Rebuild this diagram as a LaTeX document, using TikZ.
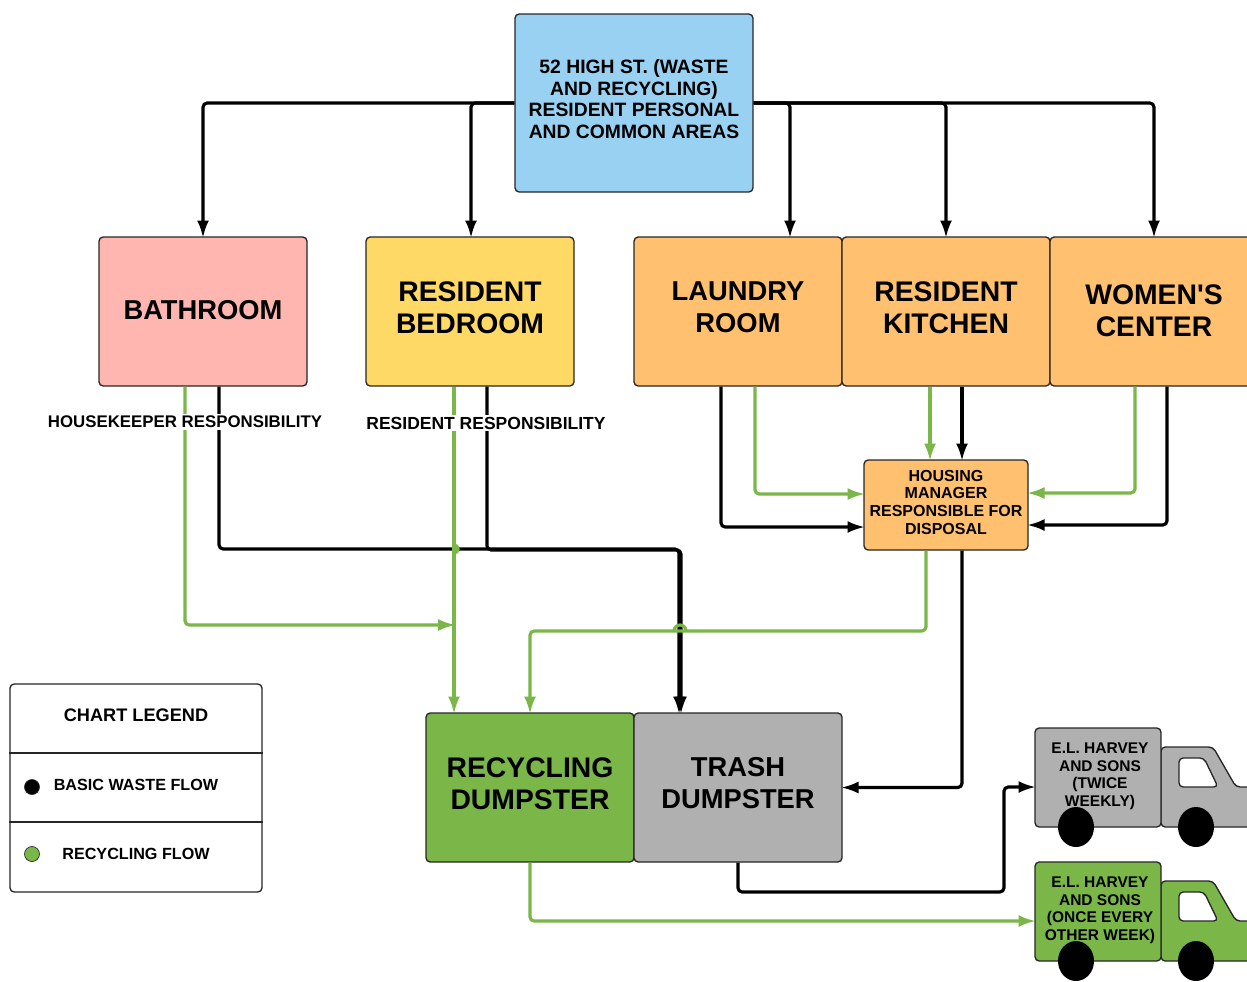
\documentclass[tikz,border=0pt]{standalone}
\usepackage{fontspec}
\setmainfont{Liberation Sans}
\usetikzlibrary{arrows.meta,calc,shapes.geometric}
\definecolor{topblue}{HTML}{99D1F3}
\definecolor{bathpink}{HTML}{FFB6B0}
\definecolor{bedyellow}{HTML}{FFD966}
\definecolor{roomorange}{HTML}{FFC06F}
\definecolor{recgreen}{HTML}{7AB648}
\definecolor{trashgray}{HTML}{B0B0B0}
\newcommand{\lift}[1]{\rule[-#1]{0pt}{0pt}}
\tikzset{
  room/.style={draw=black!85,line width=0.8pt,rounded corners=2.5pt,minimum width=124.8pt,minimum height=89.4pt,align=center,inner sep=0pt,font=\fontsize{17}{19.2}\selectfont\bfseries},
  narrowroom/.style={room,font=\fontsize{16.4}{19.2}\selectfont\bfseries},
  flow/.style={line width=1.9pt,rounded corners=2.5pt,shorten >=-1pt,-{Latex[length=10.5pt,width=7.2pt]}},
  waste/.style={flow,black},
  recycle/.style={flow,recgreen},
  tag/.style={font=\fontsize{9.7}{10.7}\selectfont\bfseries,align=center,inner sep=0pt},
  truckbox/.style={room,font=\fontsize{9.3}{10.7}\selectfont\bfseries,minimum width=75.6pt,minimum height=59.4pt},
  truckpart/.style={draw=black!85,line width=0.8pt,rounded corners=2.5pt},
  wheel/.style={ellipse,fill=black,minimum width=21.6pt,minimum height=24pt,inner sep=0pt},
  bump/.style={recgreen,line width=1.9pt},
}
\begin{document}
\begin{tikzpicture}[x=0.6pt,y=-0.6pt]
\clip (0,0) rectangle (1247,981);

%les boites
\node[room,fill=topblue,minimum width=142.8pt,minimum height=106.8pt,font=\fontsize{11.6}{12.9}\selectfont\bfseries] (top) at (634,103) {52 HIGH ST. (WASTE\\AND RECYCLING)\\RESIDENT PERSONAL\\AND COMMON AREAS\lift{5pt}};
\node[narrowroom,fill=bathpink] (bath) at (203,311.5) {BATHROOM\lift{2.4pt}};
\node[room,fill=bedyellow] (bed) at (470,311.5) {RESIDENT\\BEDROOM\lift{5pt}};
\node[narrowroom,fill=roomorange] (laundry) at (738,311.5) {LAUNDRY\\ROOM\lift{5pt}};
\node[room,fill=roomorange] (kitchen) at (946,311.5) {RESIDENT\\KITCHEN\lift{5pt}};
\node[room,fill=roomorange] (women) at (1154,311.5) {WOMEN\textquotesingle S\\CENTER\lift{1.5pt}};
\node[room,fill=roomorange,minimum width=98.4pt,minimum height=54pt,font=\fontsize{9.6}{10.6}\selectfont\bfseries] (manager) at (946,505) {HOUSING\\MANAGER\\RESPONSIBLE FOR\\DISPOSAL\lift{3.5pt}};
\node[room,fill=recgreen] (recycling) at (530,787.5) {RECYCLING\\DUMPSTER\lift{5pt}};
\node[narrowroom,fill=trashgray] (trash) at (738,787.5) {TRASH\\DUMPSTER\lift{5pt}};

%le camion gris
\draw[truckpart,fill=trashgray] (1161,747) -- (1213,747) -- (1236,787) -- (1270,787) -- (1270,827) -- (1161,827) -- cycle;
\draw[truckpart,fill=white] (1179,758) -- (1204,758) -- (1218,787) -- (1179,787) -- cycle;
\node[truckbox,fill=trashgray] (grey) at (1098,777.5) {\hspace*{2.4pt}E.L. HARVEY\\\hspace*{2.4pt}AND SONS\\\hspace*{2.4pt}(TWICE\\\hspace*{2.4pt}WEEKLY)\lift{3.5pt}};
\node[wheel] (greyA) at (1076,827) {};
\node[wheel] (greyB) at (1196,827) {};

%le camion vert
\draw[truckpart,fill=recgreen] (1161,881) -- (1213,881) -- (1236,921) -- (1270,921) -- (1270,961) -- (1161,961) -- cycle;
\draw[truckpart,fill=white] (1179,892) -- (1204,892) -- (1218,921) -- (1179,921) -- cycle;
\node[truckbox,fill=recgreen] (green) at (1098,911.5) {\hspace*{2.4pt}E.L. HARVEY\\\hspace*{2.4pt}AND SONS\\\hspace*{2.4pt}(ONCE EVERY\\\hspace*{2.4pt}OTHER WEEK)\lift{3.5pt}};
\node[wheel] (greenA) at (1076,961) {};
\node[wheel] (greenB) at (1196,961) {};

%la legende
\node[room,fill=white,minimum width=151.2pt,minimum height=124.8pt] (legend) at (136,788) {};
\draw[line width=0.8pt,black!85] (legend.west |- 0,753) -- (legend.east |- 0,753);
\draw[line width=0.8pt,black!85] (legend.west |- 0,822) -- (legend.east |- 0,822);
\node[tag,font=\fontsize{10.9}{12}\selectfont\bfseries] (legendT) at (136,715) {CHART LEGEND};
\node[tag] (legendA) at (136,785) {BASIC WASTE FLOW};
\node[tag] (legendB) at (136,854) {RECYCLING FLOW};
\node[circle,draw=black!85,fill=black,minimum size=9pt,inner sep=0pt] (dotA) at (32,787) {};
\node[circle,draw=black!85,fill=recgreen,minimum size=9pt,inner sep=0pt] (dotB) at (32,854) {};

%les fleches du haut
\draw[waste] (top.west) -| (bath.north);
\draw[waste] (top.west) -| ([xshift=0.6pt]bed.north);
\draw[waste] (top.east) -| ([xshift=31.2pt]laundry.north);
\draw[waste] (top.east) -| (kitchen.north);
\draw[waste] (top.east) -| (women.north);

%salle de bain et chambre
\coordinate (bathB) at ([xshift=9.6pt]bath.south);
\coordinate (bathG) at ([xshift=-10.8pt]bath.south);
\coordinate (bedB) at ([xshift=10.2pt]bed.south);
\coordinate (bedG) at ([xshift=-9.6pt]bed.south);
\draw[waste] (bathB) |- (679,549) -- (trash.north -| 679,0);
\draw[waste] (bedB) |- (681,550) -- (trash.north -| 681,0);
\draw[recycle] (bathG) |- (bedG |- 0,625);
\draw[recycle] (bedG) -- (bedG |- recycling.north);
\draw[bump] ($(bedG |- 0,549)+(0,4)$) arc (90:-90:4);
\node[tag,fill=white,inner sep=1pt,font=\fontsize{10.1}{11}\selectfont\bfseries] (bathL) at (185,422) {HOUSEKEEPER RESPONSIBILITY};
\node[tag,fill=white,inner sep=1pt,font=\fontsize{10.5}{11}\selectfont\bfseries] (bedL) at (486,423) {RESIDENT RESPONSIBILITY};

%vers le responsable
\draw[waste] ([xshift=-10.2pt]laundry.south) |- ([yshift=-13.2pt]manager.west);
\draw[recycle] ([xshift=10.2pt]laundry.south) |- ([yshift=6.6pt]manager.west);
\draw[recycle] ([xshift=-9.6pt]kitchen.south) -- ([xshift=-9.6pt]manager.north);
\draw[waste] ([xshift=9.6pt]kitchen.south) -- ([xshift=9.6pt]manager.north);
\draw[recycle] ([xshift=-11.4pt]women.south) |- ([yshift=7.2pt]manager.east);
\draw[waste] ([xshift=7.8pt]women.south) |- ([yshift=-12pt]manager.east);

%vers les bennes et les camions
\draw[recycle] ([xshift=-12pt]manager.south) |- (recycling.north |- 0,631) -- (recycling.north);
\draw[bump] (674,631) arc (180:360:6);
\draw[waste] ([xshift=9.6pt]manager.south) |- (trash.east);
\draw[waste] (trash.south) |- (1004,892) |- ([yshift=-5.7pt]grey.west);
\draw[recycle] (recycling.south) |- ([yshift=-5.7pt]green.west);
\end{tikzpicture}
\end{document}
